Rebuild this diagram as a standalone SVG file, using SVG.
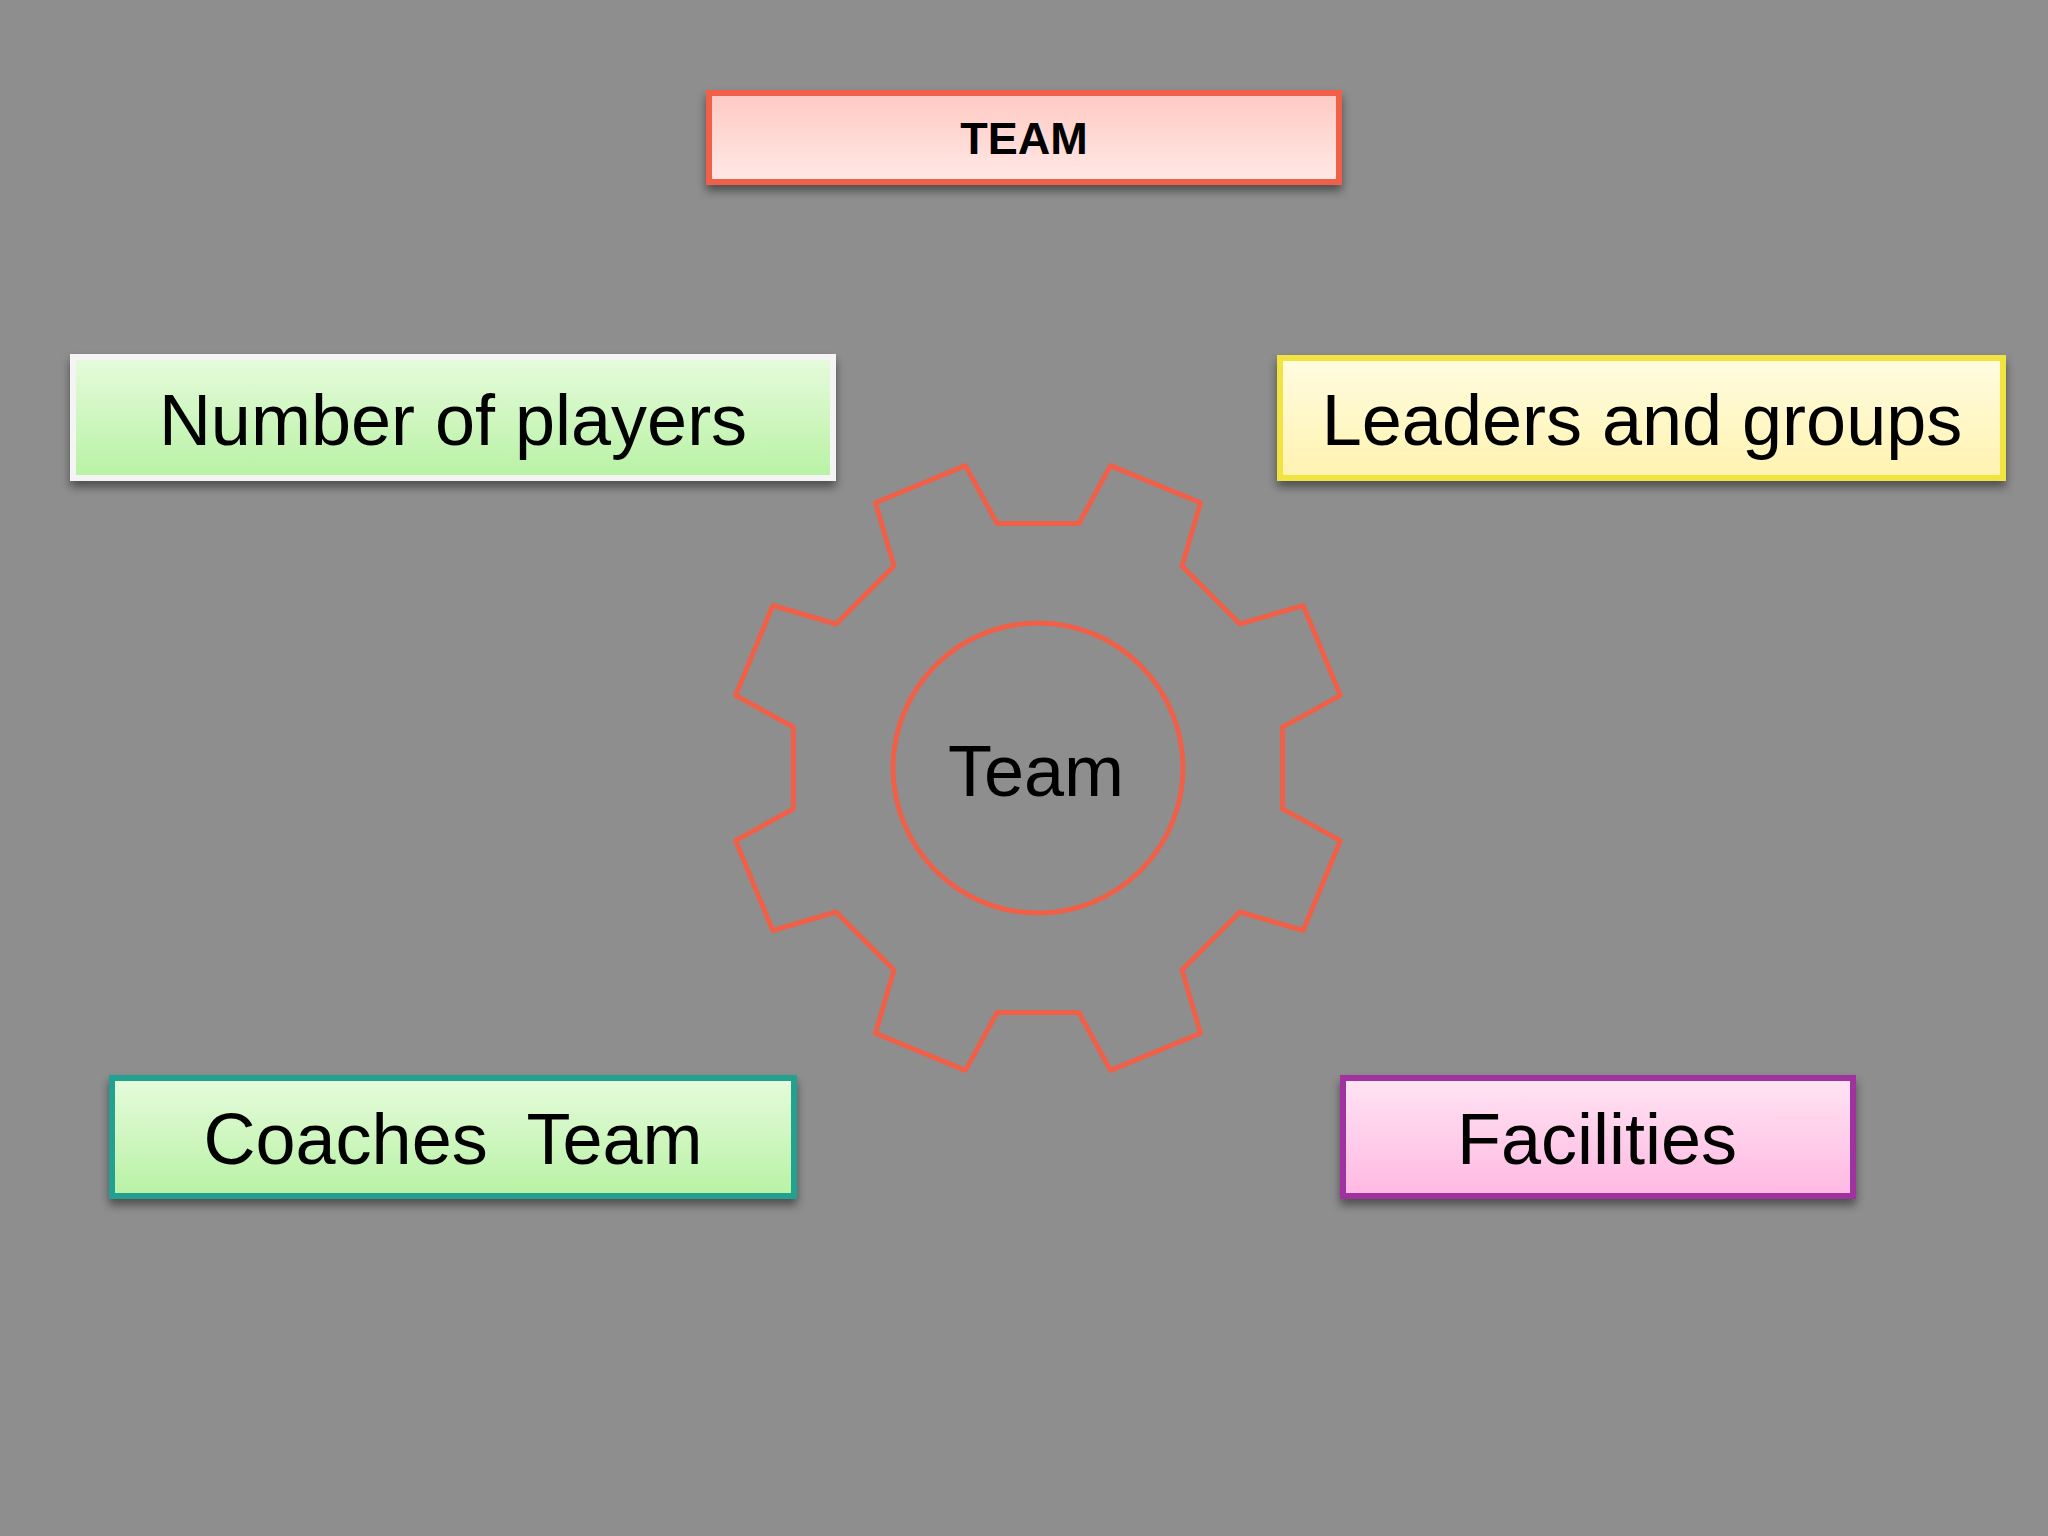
<svg xmlns="http://www.w3.org/2000/svg" width="2048" height="1536" viewBox="0 0 2048 1536">
<defs>
<filter id="sh" x="-10%" y="-20%" width="120%" height="150%"><feDropShadow dx="0" dy="6" stdDeviation="5" flood-color="#000" flood-opacity="0.45"/></filter>
<linearGradient id="gRed" x1="0" y1="0" x2="0" y2="1"><stop offset="0" stop-color="#ffc9c2"/><stop offset="1" stop-color="#ffe9e6"/></linearGradient>
<linearGradient id="gGreen" x1="0" y1="0" x2="0" y2="1"><stop offset="0" stop-color="#e6fbdc"/><stop offset="1" stop-color="#b8f2a4"/></linearGradient>
<linearGradient id="gYel" x1="0" y1="0" x2="0" y2="1"><stop offset="0" stop-color="#fffce0"/><stop offset="1" stop-color="#fff3b0"/></linearGradient>
<linearGradient id="gPink" x1="0" y1="0" x2="0" y2="1"><stop offset="0" stop-color="#ffe4f3"/><stop offset="1" stop-color="#ffb8e2"/></linearGradient>
</defs>
<style>
.lbl{font-family:"Liberation Sans",Arial,sans-serif;fill:#000;text-anchor:middle;dominant-baseline:central}
.box{stroke-width:6;filter:url(#sh)}
</style>
<rect width="2048" height="1536" fill="#8e8e8e"/>
<g id="title"><rect class="box" x="709" y="93" width="630" height="89" fill="url(#gRed)" stroke="#f06048"/><text class="lbl" x="1024" y="138" font-size="45" font-weight="bold">TEAM</text></g>
<g id="players"><rect class="box" x="73" y="357" width="760" height="121" fill="url(#gGreen)" stroke="#f4f4f4"/><text class="lbl" x="453" y="420" font-size="72">Number of players</text></g>
<g id="leaders"><rect class="box" x="1280" y="358" width="723" height="120" fill="url(#gYel)" stroke="#f2e440"/><text class="lbl" x="1642" y="420" font-size="72">Leaders and groups</text></g>
<g id="coaches"><rect class="box" x="112" y="1078" width="682" height="118" fill="url(#gGreen)" stroke="#20a090"/><text class="lbl" x="453" y="1139" font-size="72" xml:space="preserve">Coaches  Team</text></g>
<g id="facilities"><rect class="box" x="1343" y="1078" width="510" height="118" fill="url(#gPink)" stroke="#a030a0"/><text class="lbl" x="1597" y="1139" font-size="72">Facilities</text></g>
<g id="gear" transform="translate(1038,768)" fill="none" stroke="#f06048" stroke-width="5" stroke-linejoin="round">
<path d="M244.6,40.9 L302.4,72.6 L265.2,162.5 L201.9,144 L144,201.9 L162.5,265.2 L72.6,302.4 L40.9,244.6 L-40.9,244.6 L-72.6,302.4 L-162.5,265.2 L-144,201.9 L-201.9,144 L-265.2,162.5 L-302.4,72.6 L-244.6,40.9 L-244.6,-40.9 L-302.4,-72.6 L-265.2,-162.5 L-201.9,-144 L-144,-201.9 L-162.5,-265.2 L-72.6,-302.4 L-40.9,-244.6 L40.9,-244.6 L72.6,-302.4 L162.5,-265.2 L144,-201.9 L201.9,-144 L265.2,-162.5 L302.4,-72.6 L244.6,-40.9 Z"/>
<circle cx="0" cy="0" r="145"/>
</g>
<text class="lbl" x="1036" y="771" font-size="72">Team</text>
<g id="connectors"/>
</svg>
